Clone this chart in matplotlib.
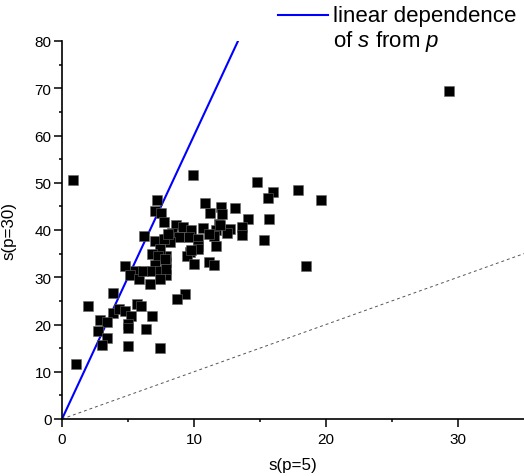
import numpy as np
import matplotlib.pyplot as plt
from matplotlib.lines import Line2D

plt.rcParams['font.family'] = ['Liberation Sans', 'DejaVu Sans']
plt.rcParams['mathtext.fontset'] = 'custom'
plt.rcParams['mathtext.rm'] = 'Liberation Sans'
plt.rcParams['mathtext.it'] = 'Liberation Sans:italic'

# s(p=5) і s(p=30) для кожної точки
s_p5 = [0.86, 1.06, 29.3, 9.9, 14.8, 17.9, 19.6, 16.0, 15.6, 15.7,
        18.5, 15.3, 10.8, 12.05, 11.2, 12.1, 13.1, 14.1, 11.9, 12.7,
        13.6, 13.6, 8.64, 9.2, 9.8, 10.7, 11.7, 11.5, 12.5, 8.3,
        8.9, 9.6, 10.3, 11.1, 7.9, 8.2, 10.3, 11.7, 9.7, 9.5,
        7.9, 7.9, 10.0, 11.1, 11.5, 7.9, 9.3, 8.7, 7.17, 7.05,
        7.5, 7.7, 6.2, 7.05, 7.7, 8.05, 7.4, 6.8, 7.3, 7.8,
        4.8, 7.05, 5.5, 5.15, 5.8, 6.16, 6.8, 7.4, 7.9, 7.4,
        6.67, 3.9, 1.94, 5.66, 6.0, 3.9, 4.34, 4.77, 5.2, 6.8,
        2.88, 3.4, 5.0, 5.0, 2.75, 6.36, 3.4, 3.06, 4.97, 7.42,
        12.0, 10.3, 9.8]
s_p30 = [50.6, 11.7, 69.5, 51.7, 50.2, 48.5, 46.4, 48.0, 46.7, 42.3,
         32.4, 37.8, 45.8, 44.8, 43.7, 43.4, 44.6, 42.3, 41.3, 40.3,
         40.6, 39.0, 41.1, 40.6, 40.1, 40.4, 39.9, 38.8, 39.4, 39.4,
         38.5, 38.5, 38.1, 39.2, 38.1, 37.4, 36.6, 36.6, 35.3, 34.5,
         34.6, 33.2, 32.8, 33.2, 32.5, 30.4, 26.5, 25.3, 46.3, 44.0,
         43.6, 41.7, 38.8, 37.6, 38.0, 39.2, 36.0, 35.0, 34.6, 33.9,
         32.3, 32.5, 31.4, 30.4, 29.7, 31.4, 31.3, 31.4, 31.8, 29.7,
         28.6, 26.6, 24.0, 24.4, 24.0, 22.4, 23.3, 22.9, 21.9, 21.9,
         21.0, 20.5, 20.1, 19.3, 18.7, 19.1, 17.2, 15.7, 15.5, 15.0,
         41.1, 36.0, 35.7]

slope_linear = 6   # лінійна залежність s від p: s(30) = 30/5 * s(5)
x_max, y_max = 35, 80

fig = plt.figure(figsize=(5.24, 4.77), dpi=100)
ax = fig.add_axes([62 / 524, 57 / 477, 1 - 62 / 524, 378 / 477])

# пунктир y = x
xd = np.array([0, x_max])
ax.plot(xd, xd, ls=(0, (3, 3)), color='#555555', lw=0.7)

# лінійна залежність
xl = np.array([0, y_max / slope_linear])
ax.plot(xl, slope_linear * xl, color='#0000ff', lw=1.5)

ax.scatter(s_p5, s_p30, marker='s', s=50, color='black',
           edgecolors='#666666', linewidths=0.4, zorder=3)

ax.set_xlim(0, x_max)
ax.set_ylim(0, y_max)
ax.set_xticks([0, 10, 20, 30])
ax.set_xticks([5, 15, 25], minor=True)
ax.set_yticks(range(0, 81, 10))
ax.set_yticks(range(5, 80, 10), minor=True)

for side in ('top', 'right'):
    ax.spines[side].set_visible(False)
for side in ('left', 'bottom'):
    ax.spines[side].set_linewidth(1.2)
ax.tick_params(which='major', direction='out', length=5.5, width=1.1,
               labelsize=11)
ax.tick_params(axis='x', which='major', pad=4)
ax.tick_params(axis='y', which='major', pad=2)
ax.tick_params(which='minor', direction='out', length=2.5, width=1.1)

ax.set_xlabel('s(p=5)', fontsize=12.2, labelpad=8)
ax.set_ylabel('s(p=30)', fontsize=12.2, labelpad=13)

# легенда
fig.add_artist(Line2D([278 / 524, 328 / 524], [1 - 16 / 477, 1 - 16 / 477],
                      color='#0000ff', lw=1.5))
fig.text(333 / 524, 1 - 6 / 477, 'linear dependence\nof $s$ from $p$',
         fontsize=16, va='top', ha='left', linespacing=1.12,
         transform=fig.transFigure)

fig.savefig('out.png', dpi=100)
